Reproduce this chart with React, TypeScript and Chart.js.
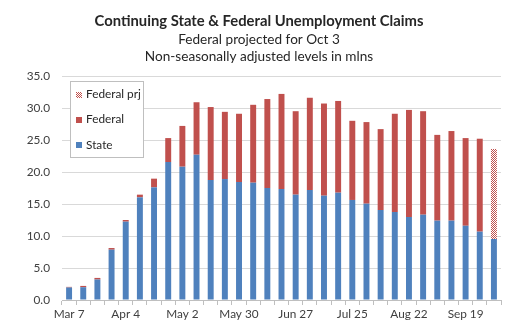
import React, { useEffect, useRef } from "react";
import { Chart, registerables } from "chart.js";

Chart.register(...registerables);

const categories = [
  "Mar 7", "Mar 14", "Mar 21", "Mar 28", "Apr 4", "Apr 11", "Apr 18", "Apr 25",
  "May 2", "May 9", "May 16", "May 23", "May 30", "Jun 6", "Jun 13", "Jun 20",
  "Jun 27", "Jul 4", "Jul 11", "Jul 18", "Jul 25", "Aug 1", "Aug 8", "Aug 15",
  "Aug 22", "Aug 29", "Sep 5", "Sep 12", "Sep 19", "Sep 26", "Oct 3",
];

const stateValues = [
  1.95, 2.0, 3.2, 7.86, 12.24, 16.04, 17.6, 21.56, 20.83, 22.7, 18.75, 18.9,
  18.44, 18.33, 17.5, 17.34, 16.46, 17.19, 16.3, 16.77, 15.63, 15.05, 14.06,
  13.75, 12.97, 13.33, 12.4, 12.4, 11.6, 10.68, 9.53,
];

const federalValues = [
  0.1, 0.2, 0.25, 0.26, 0.26, 0.42, 1.36, 3.74, 6.37, 8.2, 11.4, 10.5,
  10.66, 12.17, 13.9, 14.86, 13.04, 14.41, 14.4, 14.33, 12.37, 12.75, 12.64,
  15.35, 16.73, 16.17, 13.4, 14.0, 13.7, 14.52, null,
];

const federalPrjValues = [
  null, null, null, null, null, null, null, null, null, null, null, null,
  null, null, null, null, null, null, null, null, null, null, null, null,
  null, null, null, null, null, null, 14.07,
];

const yTicks = [0, 5, 10, 15, 20, 25, 30, 35];

const titleText = "Continuing State & Federal Unemployment Claims";
const subtitleLines = ["Federal projected for Oct 3", "Non-seasonally adjusted levels in mlns"];

const BLUE = "#4F81BD";
const RED = "#C0504D";
const FONT = "Lato, 'Open Sans', sans-serif";

function makePattern(): CanvasPattern | string {
  const c = document.createElement("canvas");
  c.width = 2;
  c.height = 2;
  const g = c.getContext("2d");
  if (!g) return RED;
  g.fillStyle = "#ffffff";
  g.fillRect(0, 0, 2, 2);
  g.fillStyle = RED;
  g.fillRect(0, 0, 1, 1);
  g.fillRect(1, 1, 1, 1);
  const p = g.createPattern(c, "repeat");
  return p || RED;
}

export default function App() {
  const ref = useRef<HTMLCanvasElement | null>(null);

  useEffect(() => {
    if (!ref.current) return;
    const pattern = makePattern();

    const overlay = {
      id: "overlay",
      afterDraw(chart: any) {
        const ctx = chart.ctx as CanvasRenderingContext2D;
        ctx.save();
        ctx.textAlign = "center";
        ctx.textBaseline = "middle";
        ctx.fillStyle = "#262626";
        ctx.font = `bold 14.8px ${FONT}`;
        ctx.fillText(titleText, 259, 21);
        ctx.font = `13.6px ${FONT}`;
        ctx.fillText(subtitleLines[0], 259, 40);
        ctx.fillText(subtitleLines[1], 259, 57);

        // legend box
        const lx = 70.5, ly = 81.5, lw = 73, lh = 76;
        ctx.fillStyle = "#ffffff";
        ctx.fillRect(lx, ly, lw, lh);
        ctx.strokeStyle = "#bfbfbf";
        ctx.lineWidth = 1;
        ctx.strokeRect(lx, ly, lw, lh);
        const items = [
          { label: "Federal prj", color: pattern, y: 94.5 },
          { label: "Federal", color: RED, y: 119.5 },
          { label: "State", color: BLUE, y: 145 },
        ];
        ctx.textAlign = "left";
        ctx.font = `11.8px ${FONT}`;
        for (const it of items) {
          ctx.fillStyle = it.color as any;
          ctx.fillRect(76, Math.round(it.y - 3), 6, 6);
          ctx.fillStyle = "#262626";
          ctx.fillText(it.label, 86, it.y);
        }
        ctx.restore();
      },
    };

    const chart = new Chart(ref.current, {
      type: "bar",
      data: {
        labels: categories,
        datasets: [
          { label: "State", data: stateValues, backgroundColor: BLUE, stack: "s" },
          { label: "Federal", data: federalValues as any, backgroundColor: RED, stack: "s" },
          { label: "Federal prj", data: federalPrjValues as any, backgroundColor: pattern as any, stack: "s" },
        ],
      },
      options: {
        animation: false,
        responsive: false,
        layout: { padding: { top: 76, right: 16, left: 0, bottom: 0 } },
        datasets: { bar: { categoryPercentage: 1, barPercentage: 0.42 } },
        plugins: {
          legend: { display: false },
          tooltip: { enabled: false },
          title: { display: false },
        },
        scales: {
          x: {
            stacked: true,
            offset: true,
            grid: {
              display: true,
              offset: true,
              drawOnChartArea: false,
              drawTicks: true,
              tickLength: 5,
              color: "#bfbfbf",
            },
            border: { display: true, color: "#bfbfbf" },
            ticks: {
              autoSkip: false,
              maxRotation: 0,
              minRotation: 0,
              padding: 2,
              color: "#404040",
              font: { family: FONT, size: 11.8 },
              callback: (_v: any, i: number) => (i % 4 === 0 ? categories[i] : ""),
            },
            afterFit: (s: any) => {
              s.height = 25;
            },
          },
          y: {
            stacked: true,
            min: yTicks[0],
            max: yTicks[yTicks.length - 1],
            afterBuildTicks: (s: any) => {
              s.ticks = yTicks.map((v) => ({ value: v }));
            },
            grid: { color: "#d9d9d9", drawTicks: false },
            border: { display: false },
            ticks: {
              padding: 12,
              color: "#404040",
              font: { family: FONT, size: 11.8 },
              callback: (v: any) => Number(v).toFixed(1),
            },
            afterFit: (s: any) => {
              s.width = 62;
            },
          },
        },
      },
      plugins: [overlay],
    });
    return () => chart.destroy();
  }, []);

  return (
    <div style={{ position: "absolute", left: 0, top: 0, width: 517, height: 325, background: "#fff" }}>
      <canvas ref={ref} width={517} height={325} style={{ display: "block" }} />
    </div>
  );
}
